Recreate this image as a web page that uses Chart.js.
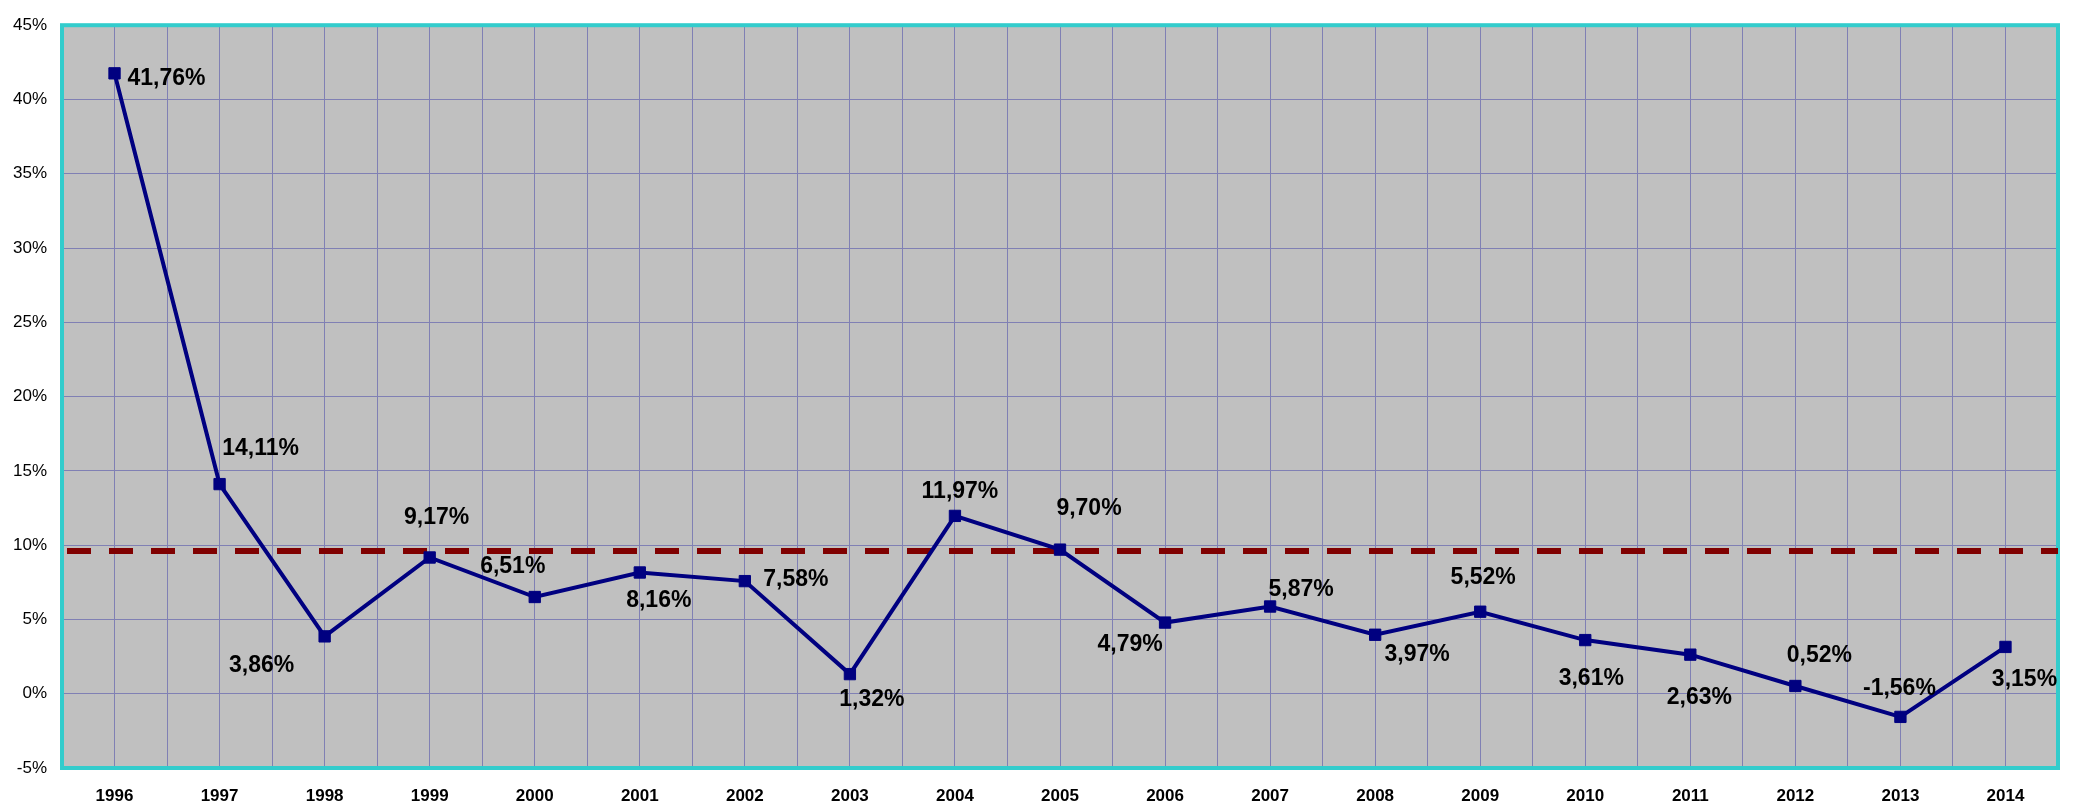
<!DOCTYPE html>
<html>
<head>
<meta charset="utf-8">
<script src="https://cdn.jsdelivr.net/npm/chart.js@4.4.0/dist/chart.umd.min.js"></script>
<style>
  html, body { margin: 0; padding: 0; background: #fff; }
  #wrap { width: 2076px; height: 806px; }
</style>
</head>
<body>
<div id="wrap"><canvas id="growthChart"></canvas></div>
<script>
// data
var years = ['1996', '1997', '1998', '1999', '2000', '2001', '2002', '2003', '2004', '2005',
             '2006', '2007', '2008', '2009', '2010', '2011', '2012', '2013', '2014'];
var growth = [41.76, 14.11, 3.86, 9.17, 6.51, 8.16, 7.58, 1.32, 11.97, 9.70,
              4.79, 5.87, 3.97, 5.52, 3.61, 2.63, 0.52, -1.56, 3.15];
var referenceLevel = 9.6;
var yMin = -5, yMax = 45, yStep = 5;

var FONT = '"Liberation Sans", Arial, sans-serif';

function pct(v) {
  return v.toFixed(2).replace('.', ',') + '%';
}

var points = growth.map(function (v, i) { return { x: i, y: v }; });
var refLine = [
  { x: -0.5, y: referenceLevel },
  { x: years.length - 0.5, y: referenceLevel }
];

// gray plot background + teal frame
var plotFrame = {
  id: 'plotFrame',
  beforeDraw: function (chart) {
    var a = chart.chartArea, ctx = chart.ctx;
    ctx.save();
    ctx.fillStyle = '#c0c0c0';
    ctx.fillRect(a.left, a.top, a.right - a.left, a.bottom - a.top);
    ctx.restore();
  },
  beforeDatasetsDraw: function (chart) {
    var a = chart.chartArea, ctx = chart.ctx;
    ctx.save();
    ctx.strokeStyle = '#33cccc';
    ctx.lineWidth = 4;
    ctx.strokeRect(a.left, a.top, a.right - a.left, a.bottom - a.top);
    ctx.restore();
  }
};

// value labels, placed like the original sheet (offset from each point)
var valueLabels = {
  id: 'valueLabels',
  afterDatasetsDraw: function (chart, args, opts) {
    var ctx = chart.ctx;
    var meta = chart.getDatasetMeta(0);
    ctx.save();
    ctx.font = 'bold 23px ' + FONT;
    ctx.fillStyle = '#000';
    ctx.textAlign = 'center';
    ctx.textBaseline = 'middle';
    meta.data.forEach(function (pt, i) {
      var off = opts.offsets[i] || [0, -25];
      ctx.fillText(pct(growth[i]), pt.x + off[0], pt.y + off[1]);
    });
    ctx.restore();
  }
};

new Chart(document.getElementById('growthChart'), {
  type: 'line',
  data: {
    datasets: [{
      label: 'growth',
      data: points,
      borderColor: '#000080',
      borderWidth: 4,
      tension: 0,
      pointStyle: 'rect',
      pointRadius: 8,
      pointBackgroundColor: '#000080',
      pointBorderColor: '#000080',
      pointBorderWidth: 1
    }, {
      label: 'reference',
      data: refLine,
      borderColor: '#800000',
      borderWidth: 6,
      borderDash: [24, 18],
      borderDashOffset: 37,
      pointRadius: 0
    }]
  },
  options: {
    responsive: true,
    maintainAspectRatio: false,
    animation: false,
    layout: { padding: { top: 18, right: 4, left: 0, bottom: 0 } },
    plugins: {
      legend: { display: false },
      tooltip: { enabled: false },
      valueLabels: {
        offsets: [
          [52, 5], [41, -35], [-63, 29], [7, -40], [-22, -30], [19, 28], [51, -1],
          [22, 26], [5, -24], [29, -41], [-35, 22], [31, -17], [42, 20], [3, -34],
          [6, 39], [9, 43], [24, -30], [-1, -28], [19, 33]
        ]
      }
    },
    scales: {
      x: {
        type: 'linear',
        min: -0.5,
        max: years.length - 0.5,
        afterFit: function (s) { s.height = 38; },
        border: { display: false },
        grid: { color: '#8080b4', lineWidth: 1, drawTicks: false },
        ticks: {
          stepSize: 0.5,
          autoSkip: false,
          maxRotation: 0,
          padding: 18,
          color: '#000',
          font: { family: FONT, size: 17, weight: 'bold' },
          callback: function (v) {
            return Number.isInteger(v) ? years[v] : '';
          }
        }
      },
      y: {
        min: yMin,
        max: yMax,
        afterFit: function (s) { s.width = 62; },
        border: { display: false },
        grid: { color: '#8080b4', lineWidth: 1, drawTicks: false },
        ticks: {
          stepSize: yStep,
          padding: 15,
          color: '#000',
          font: { family: FONT, size: 17 },
          callback: function (v) { return v + '%'; }
        }
      }
    }
  },
  plugins: [plotFrame, valueLabels]
});
</script>
</body>
</html>
